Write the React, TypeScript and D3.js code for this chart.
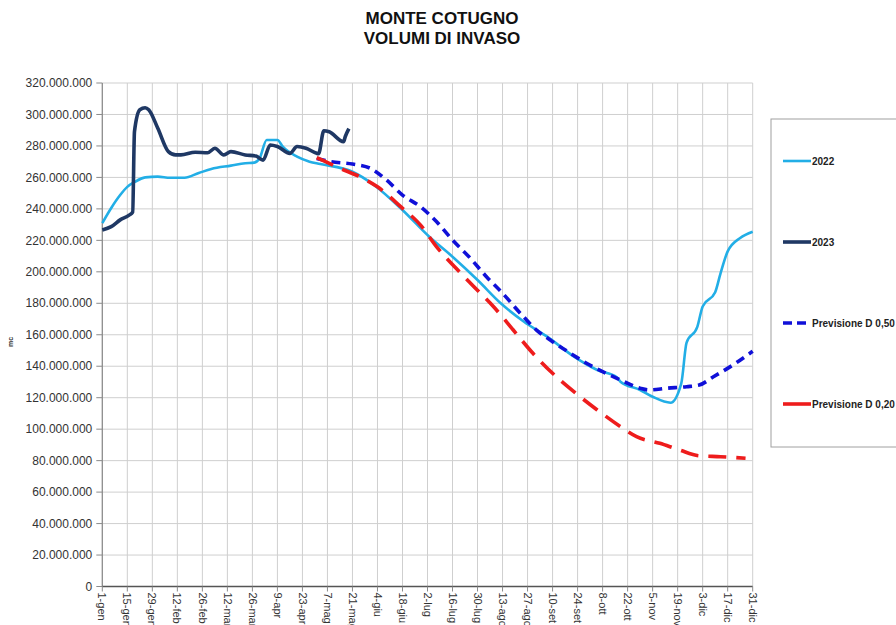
import React from "react";
import * as d3 from "d3";

const TICK_LABELS = ["1-gen","15-gen","29-gen","12-feb","26-feb","12-mar","26-mar","9-apr","23-apr","7-mag","21-mag","4-giu","18-giu","2-lug","16-lug","30-lug","13-ago","27-ago","10-set","24-set","8-ott","22-ott","5-nov","19-nov","3-dic","17-dic","31-dic"];
const Y_TICKS = [0,20,40,60,80,100,120,140,160,180,200,220,240,260,280,300,320].map(v => v * 1e6);

// day-of-year index (0 = 1-gen) and volumes in millions of m3
const DAYS_2022 = [0,5,10,14,18,24,31,38,46,54,61,72,80,85,88,92,98,101,109,116,122,140,152,168,183,196,210,223,236,249,264,277,288,290,301,308,318,324,327,333,336,343,346,350,357,364];
const VALS_2022 = [231,240.6,248.8,254,257,260,260.5,259.8,259.8,262.8,265.4,267.5,269,269.4,272,283.8,283.8,279.5,273.2,270,268.5,263.6,255.2,239.3,222.3,209.6,194.8,180,168.3,158.8,146.1,137.6,133,130.2,124.9,120.6,116.8,129,155,165,178,187,199,213,221.5,225.5];

const DAYS_2023 = [0,5,10,15,17,18,21,24,26,31,37,41,44,52,59,63,68,72,80,86,90,94,98,105,109,114,120,121,124,127,135,136,138];
const VALS_2023 = [226.6,228.7,233,236,238,289,303,304.3,303,291.4,276.4,274.3,274.3,276,275.7,278.5,274.3,276.4,274.3,273.6,271,280.6,279.6,275.3,279.6,278.5,275.3,275,289.7,289,282.7,286,291];

const DAYS_D50 = [120,128,140,150,159,168,178,187,196,206,215,224,234,243,252,262,271,280,290,301,306,316,327,334,342,353,364];
const VALS_D50 = [272,270,268.5,265.8,258.4,248.8,241.4,231.9,220.2,208.6,196.9,186.4,173.6,163,155.6,148.2,141.9,136.5,131.3,126,124.9,126,127,128,133.3,140.8,149.5];

const DAYS_D20 = [120,133,144,154,167,178,187,198,208,219,230,241,252,265,277,290,299,312,323,334,346,360];
const VALS_D20 = [272.6,265.8,260.5,254,241.4,229.8,216,202.2,190.5,177.8,163,148.2,135.5,122.8,112.2,101.6,95.2,91,86.8,83.1,82.5,81.5];

const SERIES = [
  { name: "2022", days: DAYS_2022, vals: VALS_2022, color: "#22aee6", width: 2.6, dash: null, legendDash: null },
  { name: "2023", days: DAYS_2023, vals: VALS_2023, color: "#1f3864", width: 3.6, dash: null, legendDash: null },
  { name: "Previsione D 0,50", days: DAYS_D50, vals: VALS_D50, color: "#1010d8", width: 3.6, dash: "9,6", legendDash: "9,5" },
  { name: "Previsione D 0,20", days: DAYS_D20, vals: VALS_D20, color: "#ee1c1c", width: 3.6, dash: "18,10", legendDash: null },
];

const FONT = "'Liberation Sans', Arial, sans-serif";

export default function App() {
  const left = 102.3, right = 752.7, top = 83, bottom = 586.5;
  const x = d3.scaleLinear().domain([0, 364]).range([left, right]);
  const y = d3.scaleLinear().domain([0, 320e6]).range([bottom, top]);
  const line = d3.line<[number, number]>().x(d => x(d[0])).y(d => y(d[1])).curve(d3.curveMonotoneX);

  const legendY = [161, 242, 323, 404];

  return (
    <svg width={896} height={625} style={{ position: "absolute", left: 0, top: 0, background: "#fff" }} fontFamily={FONT}>
      <rect x={0} y={0} width={896} height={625} fill="#fff" />
      <text x={442} y={24} textAnchor="middle" fontSize={17} fontWeight="bold" fill="#111">MONTE COTUGNO</text>
      <text x={442} y={44} textAnchor="middle" fontSize={17} fontWeight="bold" fill="#111">VOLUMI DI INVASO</text>

      {/* grid */}
      {Y_TICKS.map((v, i) => (
        <line key={"h" + i} x1={left} x2={right} y1={y(v)} y2={y(v)} stroke="#cfcfcf" strokeWidth={1} />
      ))}
      {TICK_LABELS.map((t, i) => (
        <line key={"v" + i} x1={x(i * 14)} x2={x(i * 14)} y1={top} y2={bottom} stroke="#cfcfcf" strokeWidth={1} />
      ))}

      {/* axes */}
      <line x1={left} x2={left} y1={top} y2={bottom} stroke="#8a8a8a" strokeWidth={1.2} />
      <line x1={left} x2={right} y1={bottom} y2={bottom} stroke="#555" strokeWidth={1.4} />
      {Y_TICKS.map((v, i) => (
        <g key={"yt" + i}>
          <line x1={left - 6} x2={left} y1={y(v)} y2={y(v)} stroke="#8a8a8a" />
          <text x={left - 10} y={y(v)} dy="0.35em" textAnchor="end" fontSize={12} fill="#333">
            {v === 0 ? "0" : d3.format(",")(v).replace(/,/g, ".")}
          </text>
        </g>
      ))}
      {TICK_LABELS.map((t, i) => (
        <g key={"xt" + i}>
          <line x1={x(i * 14)} x2={x(i * 14)} y1={bottom} y2={bottom + 5} stroke="#8a8a8a" />
          <text transform={`translate(${x(i * 14)},${bottom + 6}) rotate(90)`} dy="0.35em" fontSize={11} fill="#333">{t}</text>
        </g>
      ))}
      <text transform="translate(13,342) rotate(-90)" textAnchor="middle" fontSize={7} fontWeight="bold" fill="#333">mc</text>

      {/* series */}
      {SERIES.map(s => (
        <path key={s.name} d={line(s.days.map((d, i) => [d, s.vals[i] * 1e6] as [number, number])) || ""}
          fill="none" stroke={s.color} strokeWidth={s.width} strokeDasharray={s.dash || undefined}
          strokeLinejoin="round" />
      ))}

      {/* legend */}
      <rect x={771} y={119} width={160} height={328} fill="#fff" stroke="#a0a0a0" strokeWidth={1} />
      {SERIES.map((s, i) => (
        <g key={"lg" + i}>
          <line x1={783} x2={811} y1={legendY[i]} y2={legendY[i]} stroke={s.color} strokeWidth={s.width}
            strokeDasharray={s.legendDash || undefined} />
          <text x={812} y={legendY[i]} dy="0.35em" fontSize={10} fontWeight="bold" fill="#222">{s.name}</text>
        </g>
      ))}
    </svg>
  );
}
